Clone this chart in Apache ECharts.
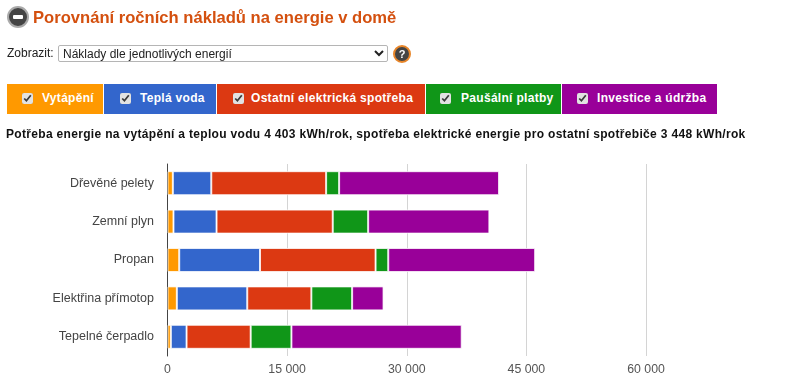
<!DOCTYPE html>
<html lang="cs"><head><meta charset="utf-8">
<script src="https://cdn.jsdelivr.net/npm/echarts@6/dist/echarts.min.js"></script>
<style>
html,body{margin:0;padding:0;background:#fff;width:800px;height:392px;overflow:hidden;font-family:"Liberation Sans",Arial,sans-serif}
#chart{position:absolute;left:0;top:0;width:800px;height:392px}
.o{position:absolute;z-index:2}
#title{left:33px;top:7px;font-size:16.6px;font-weight:bold;color:#d4500f;line-height:21px;white-space:nowrap}
#minus{left:7px;top:6px;width:18px;height:18px;border-radius:50%;background:#444;border:2px solid #aaa}
#minus:after{content:"";position:absolute;left:4px;top:7px;width:10px;height:4px;background:#fff;border-radius:1px}
#lab{left:7px;top:46px;font-size:12px;line-height:14px;color:#222}
#sel{left:58px;top:45px;width:330px;height:17px;font:12px "Liberation Sans",Arial,sans-serif;padding:0;box-sizing:border-box;border:1px solid #b5b5b5;border-radius:2px;background:#fff;color:#222}
#help{left:393px;top:45px;width:14px;height:14px;border-radius:50%;background:#444;border:2px solid #e8862a;color:#fff;font:bold 11px/14px "Liberation Sans",Arial,sans-serif;text-align:center}
.lg{position:absolute;z-index:2;top:84px;height:30px;color:#fff;font-size:12px;font-weight:bold;line-height:29px;white-space:nowrap;box-sizing:border-box;letter-spacing:.3px}
.lg input{position:absolute;top:9px;width:11px;height:11px;margin:0;accent-color:#e2e2e2}
.lg span{position:absolute;top:0}
#sub{left:6px;top:127px;font-size:12px;font-weight:bold;line-height:15px;color:#111;white-space:nowrap;letter-spacing:.32px}
</style></head><body>
<div id="chart"></div>
<div class="o" id="minus"></div>
<div class="o" id="title">Porovnání ročních nákladů na energie v domě</div>
<div class="o" id="lab">Zobrazit:</div>
<select class="o" id="sel"><option>Náklady dle jednotlivých energií</option></select>
<div class="o" id="help">?</div>
<div id="legend"></div>
<div class="o" id="sub">Potřeba energie na vytápění a teplou vodu 4 403 kWh/rok, spotřeba elektrické energie pro ostatní spotřebiče 3 448 kWh/rok</div>
<script>
const categories = ['Dřevěné pelety','Zemní plyn','Propan','Elektřina přímotop','Tepelné čerpadlo'];
const seriesNames = ['Vytápění','Teplá voda','Ostatní elektrická spotřeba','Paušální platby','Investice a údržba'];
const colors = ['#ff9900','#3366cc','#dc3912','#109618','#990099'];
const vytapeni = [670,750,1470,1170,420];
const teplaVoda = [4820,5400,10130,8830,1970];
const ostatni = [14400,14570,14490,8040,8040];
const pausalni = [1630,4440,1590,5110,5110];
const investice = [20050,15200,18420,3940,21350];
const seriesValues = [vytapeni,teplaVoda,ostatni,pausalni,investice];
const axisMax = 60000, axisStep = 15000;
// legend strip layout: left, width, checkbox x, text x
const legendBoxes = [[7,96,15,35],[104,112,16,36],[217,208,16,34],[426,135,14,35],[562,155,15,35]];

const lg = document.getElementById('legend');
seriesNames.forEach((n,i)=>{
  const b = legendBoxes[i], d = document.createElement('div');
  d.className='lg';
  d.style.cssText=`left:${b[0]}px;width:${b[1]}px;background:${colors[i]}`;
  d.innerHTML=`<input type="checkbox" checked style="left:${b[2]}px"><span style="left:${b[3]}px">${n}</span>`;
  lg.appendChild(d);
});

const chart = echarts.init(document.getElementById('chart'),null,{renderer:'canvas'});
chart.setOption({
  animation:false,
  textStyle:{fontFamily:'"Liberation Sans",Arial,sans-serif'},
  grid:{left:167.5,top:164,width:478.5,height:192,containLabel:false},
  xAxis:{type:'value',min:0,max:axisMax,interval:axisStep,
    axisLine:{show:false},axisTick:{show:false},
    splitLine:{show:true,lineStyle:{color:'#d4d4d4',width:1}},
    axisLabel:{color:'#555',fontSize:12.3,margin:8,hideOverlap:false,
      formatter:v=>String(v).replace(/\B(?=(\d{3})+$)/g,' ')}},
  yAxis:{type:'category',inverse:true,data:categories,
    axisLine:{show:true,lineStyle:{color:'#444',width:1}},axisTick:{show:false},
    splitLine:{show:false},
    axisLabel:{color:'#444',fontSize:12.5,margin:13.5,padding:[2,0,0,0]}},
  series:seriesNames.map((n,i)=>({
    name:n,type:'bar',stack:'total',barWidth:24,data:seriesValues[i],
    itemStyle:{color:colors[i],borderColor:'rgba(255,255,255,0.75)',borderWidth:1}
  }))
});
</script></body></html>
